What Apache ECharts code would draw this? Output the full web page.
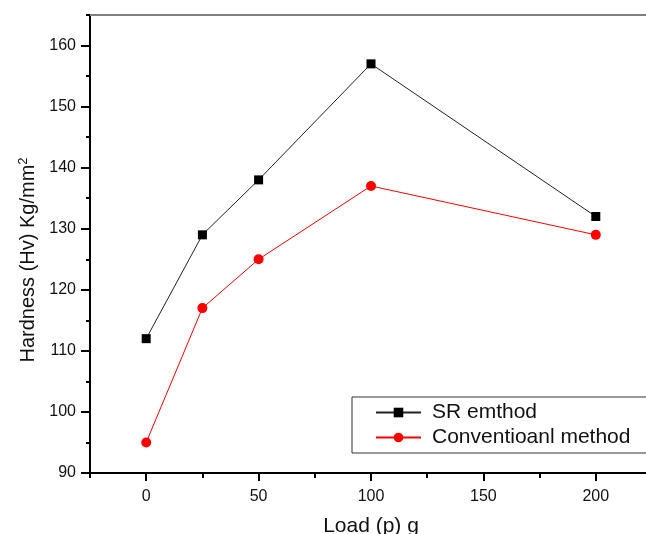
<!DOCTYPE html>
<html>
<head>
<meta charset="utf-8">
<script src="https://cdn.jsdelivr.net/npm/echarts@6/dist/echarts.min.js"></script>
<style>
  html, body { margin: 0; padding: 0; background: #fff; }
  #chart { width: 646px; height: 534px; }
</style>
</head>
<body>
<div id="chart"></div>
<script>
// Load in grams and measured hardness for the two preparation methods
const loads = [0, 25, 50, 100, 200];
const srMethod = [112, 129, 138, 157, 132];
const conventionalMethod = [95, 117, 125, 137, 129];
const xMajorTicks = [0, 50, 100, 150, 200];
const yMajorTicks = [90, 100, 110, 120, 130, 140, 150, 160];

const font = 'Arial, "Liberation Sans", sans-serif';
const pairs = (xs, ys) => xs.map((x, i) => [x, ys[i]]);

const chart = echarts.init(document.getElementById('chart'), null, { renderer: 'canvas' });

const baseX = { type: 'value', min: -25, max: 225, splitLine: { show: false } };
const baseY = { type: 'value', min: 90, max: 165, splitLine: { show: false } };

chart.setOption({
  animation: false,
  backgroundColor: '#ffffff',
  grid: { left: 90, top: 15, width: 562, height: 458, containLabel: false, outerBoundsMode: 'none' },
  xAxis: [
    Object.assign({}, baseX, {
      position: 'bottom',
      interval: 25,
      axisLine: { onZero: false, lineStyle: { color: '#000', width: 2 } },
      axisTick: { show: true, length: 5, lineStyle: { color: '#000', width: 2 } },
      axisLabel: {
        margin: 16, fontSize: 16, color: '#111', fontFamily: font,
        formatter: v => (v % 50 === 0 && v >= 0 && v <= 200) ? String(v) : ''
      },
      name: 'Load (p) g',
      nameLocation: 'middle',
      nameGap: 43,
      nameTextStyle: { fontSize: 21, color: '#111', fontFamily: font }
    }),
    Object.assign({}, baseX, {
      position: 'bottom',
      axisLine: { show: false, onZero: false },
      axisTick: { show: true, length: 8, customValues: xMajorTicks, lineStyle: { color: '#000', width: 2 } },
      axisLabel: { show: false }
    }),
    Object.assign({}, baseX, {
      position: 'top',
      axisLine: { onZero: false, lineStyle: { color: '#808080', width: 2 } },
      axisTick: { show: false },
      axisLabel: { show: false }
    })
  ],
  yAxis: [
    Object.assign({}, baseY, {
      position: 'left',
      interval: 5,
      axisLine: { onZero: false, lineStyle: { color: '#000', width: 2 } },
      axisTick: { show: true, length: 4, lineStyle: { color: '#000', width: 2 } },
      axisLabel: {
        margin: 14, fontSize: 16, color: '#111', fontFamily: font,
        formatter: v => (v % 10 === 0 && v <= 160) ? String(v) : ''
      }
    }),
    Object.assign({}, baseY, {
      position: 'left',
      axisLine: { show: false, onZero: false },
      axisTick: { show: true, length: 9, customValues: yMajorTicks, lineStyle: { color: '#000', width: 2 } },
      axisLabel: { show: false }
    })
  ],
  legend: {
    left: 352, top: 397,
    orient: 'vertical',
    backgroundColor: '#fff',
    borderColor: '#333', borderWidth: 1,
    padding: [5, 60, 5, 23],
    itemWidth: 45, itemHeight: 12, itemGap: 4,
    textStyle: { fontSize: 21, color: '#111', fontFamily: font, padding: [0, 0, 0, 6] },
    data: ['SR emthod', 'Conventioanl method']
  },
  graphic: [{
    type: 'text',
    x: 28, y: 260,
    rotation: Math.PI / 2,
    style: {
      text: 'Hardness (Hv) Kg/mm{sup|2}',
      fontSize: 20, fontFamily: font, fill: '#111',
      align: 'center', verticalAlign: 'middle',
      rich: { sup: { fontSize: 13, fontFamily: font, fill: '#111', verticalAlign: 'top', padding: [0, 0, 10, 0] } }
    }
  }],
  series: [
    {
      name: 'SR emthod',
      type: 'line',
      xAxisIndex: 0, yAxisIndex: 0,
      data: pairs(loads, srMethod),
      symbol: 'rect', symbolSize: 9,
      itemStyle: { color: '#000' },
      lineStyle: { color: '#222', width: 1 }
    },
    {
      name: 'Conventioanl method',
      type: 'line',
      xAxisIndex: 0, yAxisIndex: 0,
      data: pairs(loads, conventionalMethod),
      symbol: 'circle', symbolSize: 10,
      itemStyle: { color: '#ff0000' },
      lineStyle: { color: '#ff0000', width: 1 }
    }
  ]
});
</script>
</body>
</html>
